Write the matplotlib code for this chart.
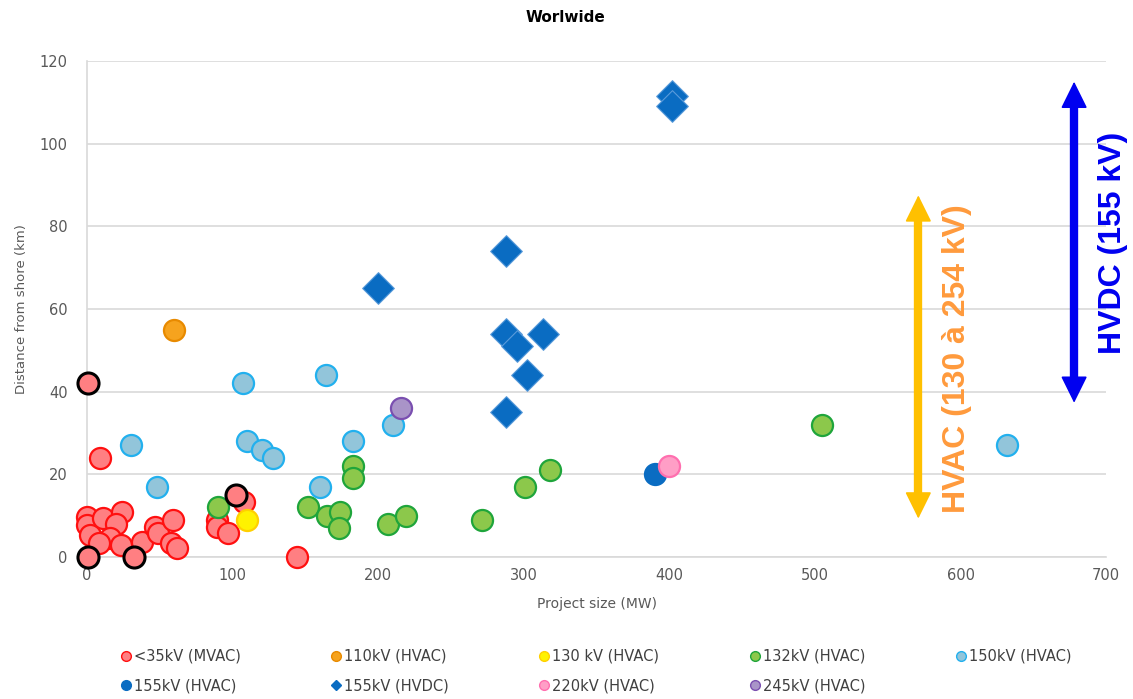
"""Offshore wind export cables: project size vs distance from shore."""

import matplotlib
matplotlib.use("Agg")
import matplotlib.pyplot as plt
from matplotlib.lines import Line2D

# ---- data ----
red_x = [0, 0, 2, 11, 24, 20, 16, 8, 23, 38, 47, 49, 59, 58, 62, 9,
         89, 89, 97, 108, 144]
red_y = [9.7, 7.7, 5.3, 9.4, 11, 8, 4.6, 3.4, 3, 3.6, 7.3, 5.8, 9, 3.4, 2.2, 24,
         9, 7.3, 5.8, 13.3, 0]
red_black_x = [1, 1, 32, 102]
red_black_y = [0, 42, 0, 15]

orange_x = [60]
orange_y = [55]

yellow_x = [110]
yellow_y = [9]

green_x = [90, 152, 165, 174, 173, 183, 183, 207, 219, 271, 301, 318, 505]
green_y = [12, 12, 10, 11, 7, 22, 19, 8, 10, 9, 17, 21, 32]

lblue_x = [30, 48, 107, 110, 120, 128, 160, 164, 183, 210, 632]
lblue_y = [27, 17, 42, 28, 26, 24, 17, 44, 28, 32, 27]

dblue_x = [390]
dblue_y = [20]

hvdc_x = [402, 402, 288, 200, 288, 295, 313, 302, 288]
hvdc_y = [111.5, 109, 74, 65, 54, 51, 54, 44, 35]

pink_x = [400]
pink_y = [22]

purple_x = [216]
purple_y = [36]

labels = ["<35kV (MVAC)", "110kV (HVAC)", "130 kV (HVAC)", "132kV (HVAC)",
          "150kV (HVAC)", "155kV (HVAC)", "155kV (HVDC)", "220kV (HVAC)",
          "245kV (HVAC)"]

# voltage ranges marked by the double arrows (x, y_low, y_high)
hvac_range = (571, 9.3, 87.5)
hvdc_range = (678, 37.3, 115)

fig = plt.figure(figsize=(11.33, 6.99), dpi=100)
ax = fig.add_axes([0.0768, 0.2032, 0.8995, 0.7095])

S = 230
LW = 1.6
kw = dict(s=S, linewidths=LW, clip_on=False, zorder=3)

ax.scatter(red_x, red_y, c="#FF7F82", edgecolors="#FF1010", **kw)
ax.scatter(red_black_x, red_black_y, c="#FF7F82", edgecolors="black",
           s=S, linewidths=2.2, clip_on=False, zorder=4)
ax.scatter(orange_x, orange_y, c="#F6A31E", edgecolors="#E88A00", **kw)
ax.scatter(yellow_x, yellow_y, c="#FFF200", edgecolors="#FFD000", **kw)
ax.scatter(green_x, green_y, c="#8CC84B", edgecolors="#1FA53B", **kw)
ax.scatter(lblue_x, lblue_y, c="#92C5DA", edgecolors="#22B0EE", **kw)
ax.scatter(dblue_x, dblue_y, c="#0A6CC2", edgecolors="#0A6CC2", **kw)
ax.scatter(pink_x, pink_y, c="#FF9EC6", edgecolors="#FF6FAF", **kw)
ax.scatter(purple_x, purple_y, c="#A994C8", edgecolors="#7A4FB0", **kw)
ax.scatter(hvdc_x, hvdc_y, marker="D", s=260, c="#0A6CC2",
           edgecolors="#5A9BDB", linewidths=0.8, clip_on=False, zorder=3)

ax.set_xlim(0, 700)
ax.set_ylim(0, 120)
ax.set_xticks(range(0, 701, 100))
ax.set_yticks(range(0, 121, 20))
ax.tick_params(length=0, labelsize=10.5, labelcolor="#595959")
ax.tick_params(axis="y", pad=14)
ax.tick_params(axis="x", pad=8)
ax.grid(axis="y", color="#D9D9D9", linewidth=1.2)
ax.set_axisbelow(True)
for side in ["top", "right"]:
    ax.spines[side].set_visible(False)
for side in ["left", "bottom"]:
    ax.spines[side].set_color("#D9D9D9")
    ax.spines[side].set_linewidth(1.2)

ax.set_xlabel("Project size (MW)", fontsize=10, color="#595959", labelpad=10)
ax.set_ylabel("Distance from shore (km)", fontsize=9.5, color="#595959",
              labelpad=8)
fig.text(565 / 1133, 1 - 18 / 699, "Worlwide", fontsize=11, fontweight="bold",
         ha="center", va="center")


def double_arrow(x, y0, y1, color):
    """thick shaft + two filled heads"""
    head = 5.4  # head length in data units (~22 px)
    ax.plot([x, x], [y0 + head * 0.9, y1 - head * 0.9], color=color, lw=6,
            solid_capstyle="butt", clip_on=False, zorder=2)
    ax.annotate("", xy=(x, y1), xytext=(x, y0),
                arrowprops=dict(arrowstyle="<|-|>,head_length=0.85,head_width=0.42",
                                color=color, lw=1.2, shrinkA=0, shrinkB=0,
                                mutation_scale=20), annotation_clip=False)


double_arrow(*hvac_range, "#FFC000")
double_arrow(*hvdc_range, "#0000F0")
ax.text(597.5, 48, "HVAC (130 à 254 kV)", rotation=90, ha="center",
        va="center", fontsize=23, fontweight="bold", color="#FF9A3C",
        family="Liberation Sans", clip_on=False)
ax.text(705, 76, "HVDC (155 kV)", rotation=90, ha="center", va="center",
        fontsize=23, fontweight="bold", color="#0000F0",
        family="Liberation Sans", clip_on=False)

# ---- legend ----
styles = [("o", "#FF7F82", "#FF1010"), ("o", "#F6A31E", "#E88A00"),
          ("o", "#FFF200", "#FFD000"), ("o", "#8CC84B", "#1FA53B"),
          ("o", "#92C5DA", "#22B0EE"), ("o", "#0A6CC2", "#0A6CC2"),
          ("D", "#0A6CC2", "#0A6CC2"), ("o", "#FF9EC6", "#FF6FAF"),
          ("o", "#A994C8", "#7A4FB0")]
handles = [Line2D([], [], linestyle="none", marker=m, markersize=7 if m == "o" else 5,
                  markerfacecolor=f, markeredgecolor=e, markeredgewidth=1)
           for m, f, e in styles]
order = [0, 5, 1, 6, 2, 7, 3, 8, 4]
fig.legend([handles[i] for i in order], [labels[i] for i in order],
           loc="center", bbox_to_anchor=(0.525, 1 - 671 / 699), ncol=5,
           frameon=False, fontsize=10.5, labelcolor="#404040",
           handletextpad=0.05, columnspacing=6.05, labelspacing=1.0,
           handlelength=1.0)

fig.savefig("out.png", dpi=100)
